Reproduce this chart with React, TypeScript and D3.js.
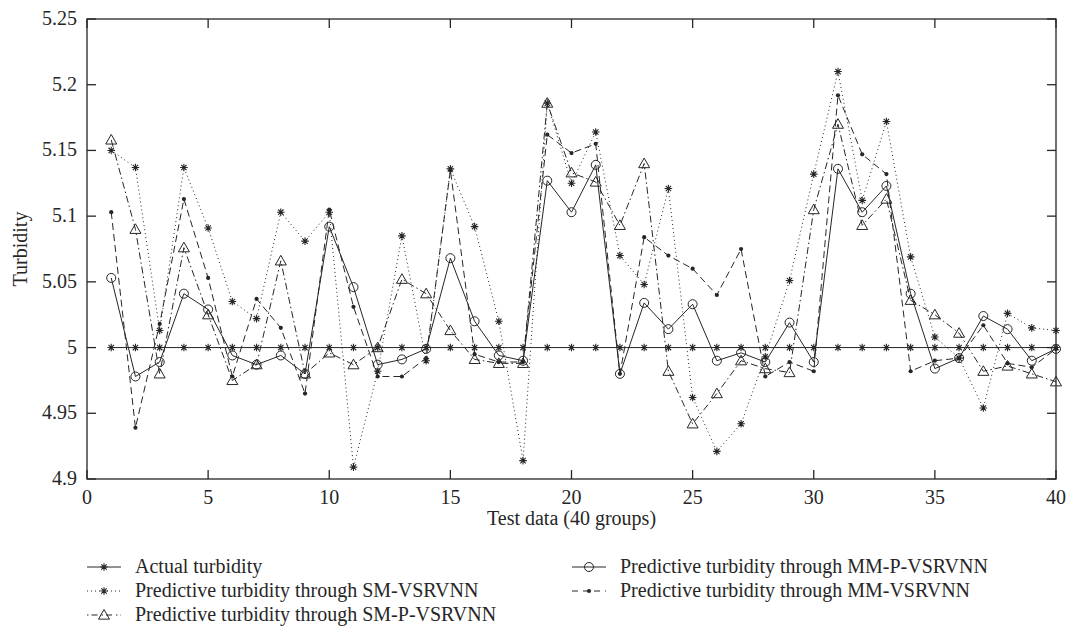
import * as d3 from 'd3';
import React from 'react';

// test groups 1..40
const groups = d3.range(1, 41);

const actual = groups.map(() => 5.0);

const smVsrvnn = [5.150, 5.137, 5.013, 5.137, 5.091, 5.035, 5.022, 5.103, 5.081, 5.103,
  4.909, 4.982, 5.085, 4.990, 5.136, 5.092, 5.020, 4.914, 5.186, 5.125,
  5.164, 5.070, 5.048, 5.121, 4.962, 4.921, 4.942, 4.993, 5.051, 5.132,
  5.210, 5.112, 5.172, 5.069, 5.008, 4.992, 4.954, 5.026, 5.015, 5.013];

const smPVsrvnn = [5.158, 5.090, 4.980, 5.076, 5.025, 4.975, 4.987, 5.066, 4.980, 4.996,
  4.987, 5.000, 5.052, 5.041, 5.013, 4.991, 4.988, 4.988, 5.186, 5.133,
  5.126, 5.093, 5.140, 4.982, 4.942, 4.965, 4.990, 4.984, 4.981, 5.105,
  5.170, 5.093, 5.113, 5.036, 5.025, 5.011, 4.982, 4.986, 4.980, 4.974];

const mmPVsrvnn = [5.053, 4.978, 4.989, 5.041, 5.029, 4.994, 4.987, 4.994, 4.980, 5.092,
  5.046, 4.987, 4.991, 4.999, 5.068, 5.020, 4.994, 4.990, 5.127, 5.103,
  5.139, 4.980, 5.034, 5.014, 5.033, 4.990, 4.996, 4.989, 5.019, 4.989,
  5.136, 5.103, 5.123, 5.041, 4.984, 4.992, 5.024, 5.014, 4.990, 4.999];

const mmVsrvnn = [5.103, 4.939, 5.018, 5.113, 5.053, 4.978, 5.037, 5.015, 4.965, 5.105,
  5.031, 4.978, 4.978, 4.992, 5.135, 4.995, 4.989, 4.989, 5.162, 5.148,
  5.155, 4.980, 5.084, 5.070, 5.060, 5.040, 5.075, 4.978, 4.989, 4.982,
  5.192, 5.147, 5.132, 4.982, 4.990, 4.992, 5.017, 4.988, 4.985, 4.999];

const xTicks = [0, 5, 10, 15, 20, 25, 30, 35, 40];
const yTicks = [4.9, 4.95, 5, 5.05, 5.1, 5.15, 5.2, 5.25];

const seriesNames = [
  'Actual turbidity',
  'Predictive turbidity through MM-P-VSRVNN',
  'Predictive turbidity through SM-VSRVNN',
  'Predictive turbidity through MM-VSRVNN',
  'Predictive turbidity through SM-P-VSRVNN',
];

const W = 1069, H = 631;
const margin = { top: 19, right: 13, bottom: 152, left: 87 };
const ink = '#262626';
const font = '"Liberation Serif", "DejaVu Serif", serif';

type Kind = 'star' | 'circle' | 'dot' | 'tri';

const Marker = ({ kind, x, y }: { kind: Kind; x: number; y: number }) => {
  if (kind === 'circle') return <circle cx={x} cy={y} r={4.5} fill="none" stroke={ink} strokeWidth={1} />;
  if (kind === 'dot') return <circle cx={x} cy={y} r={2.1} fill={ink} />;
  if (kind === 'tri') {
    const s = 5.5;
    return <path d={`M${x},${y - s}L${x + s},${y + s * 0.75}L${x - s},${y + s * 0.75}Z`} fill="none" stroke={ink} strokeWidth={1} />;
  }
  const r = 3.8, d = r * 0.707;
  return (
    <path
      d={`M${x - r},${y}H${x + r}M${x},${y - r}V${y + r}M${x - d},${y - d}L${x + d},${y + d}M${x - d},${y + d}L${x + d},${y - d}`}
      stroke={ink} strokeWidth={1.1} />
  );
};

const App = () => {
  const innerW = W - margin.left - margin.right;
  const innerH = H - margin.top - margin.bottom;

  const x = d3.scaleLinear().domain([0, 40]).range([margin.left, margin.left + innerW]);
  const y = d3.scaleLinear().domain([4.9, 5.25]).range([margin.top + innerH, margin.top]);

  const line = d3.line<number>().x((_, i) => x(groups[i])).y((d) => y(d));

  const series: { name: string; values: number[]; kind: Kind; dash: string; legendDash: string }[] = [
    { name: seriesNames[0], values: actual, kind: 'star', dash: '', legendDash: '' },
    { name: seriesNames[1], values: mmPVsrvnn, kind: 'circle', dash: '', legendDash: '' },
    { name: seriesNames[2], values: smVsrvnn, kind: 'star', dash: '1,3', legendDash: '1,3' },
    { name: seriesNames[3], values: mmVsrvnn, kind: 'dot', dash: '7,4', legendDash: '6,5' },
    { name: seriesNames[4], values: smPVsrvnn, kind: 'tri', dash: '7,3,1.5,3', legendDash: '1.5,3,6,4' },
  ];

  const x0 = x(0), x1 = x(40), y0 = y(4.9), y1 = y(5.25);
  const tl = 9;
  const fs = 20;

  // legend slots: left column rows 0..2, right column rows 0..1
  const legendPos = [
    { lx: 87, row: 0 },
    { lx: 572, row: 0 },
    { lx: 87, row: 1 },
    { lx: 572, row: 1 },
    { lx: 87, row: 2 },
  ];
  const rowY = [567, 591, 615];

  return (
    <svg width={W} height={H} style={{ position: 'absolute', left: 0, top: 0, background: '#fff' }}
      fontFamily={font}>
      {/* series */}
      {series.map((s) => (
        <g key={s.name}>
          <path d={line(s.values) || ''} fill="none" stroke={ink} strokeWidth={1} strokeDasharray={s.dash} />
          {s.values.map((v, i) => (
            <Marker key={i} kind={s.kind} x={x(groups[i])} y={y(v)} />
          ))}
        </g>
      ))}

      {/* frame */}
      <rect x={x0} y={y1} width={x1 - x0} height={y0 - y1} fill="none" stroke={ink} strokeWidth={1.3} />

      {/* x ticks */}
      {xTicks.map((t) => (
        <g key={'x' + t}>
          <line x1={x(t)} x2={x(t)} y1={y0} y2={y0 - tl} stroke={ink} strokeWidth={1.3} />
          <line x1={x(t)} x2={x(t)} y1={y1} y2={y1 + tl} stroke={ink} strokeWidth={1.3} />
          <text x={x(t)} y={y0 + 25} textAnchor="middle" fontSize={fs} fill={ink}>{t}</text>
        </g>
      ))}

      {/* y ticks */}
      {yTicks.map((t) => (
        <g key={'y' + t}>
          <line x1={x0} x2={x0 + tl} y1={y(t)} y2={y(t)} stroke={ink} strokeWidth={1.3} />
          <line x1={x1} x2={x1 - tl} y1={y(t)} y2={y(t)} stroke={ink} strokeWidth={1.3} />
          <text x={x0 - 10} y={y(t) + 6} textAnchor="end" fontSize={fs} fill={ink}>{d3.format('~g')(t)}</text>
        </g>
      ))}

      <text x={(x0 + x1) / 2} y={y0 + 46} textAnchor="middle" fontSize={fs} fill={ink}>Test data (40 groups)</text>
      <text transform={`translate(27,${(y0 + y1) / 2}) rotate(-90)`} textAnchor="middle" fontSize={fs} fill={ink}>Turbidity</text>

      {/* legend */}
      {series.map((s, i) => {
        const p = legendPos[i];
        const cy = rowY[p.row];
        return (
          <g key={'lg' + i}>
            <line x1={p.lx} x2={p.lx + 34} y1={cy} y2={cy} stroke={ink} strokeWidth={1} strokeDasharray={s.legendDash} />
            <Marker kind={s.kind} x={p.lx + 17} y={cy} />
            <text x={p.lx + 48} y={cy + 6} fontSize={fs} fill={ink}>{s.name}</text>
          </g>
        );
      })}
    </svg>
  );
};

export default App;
